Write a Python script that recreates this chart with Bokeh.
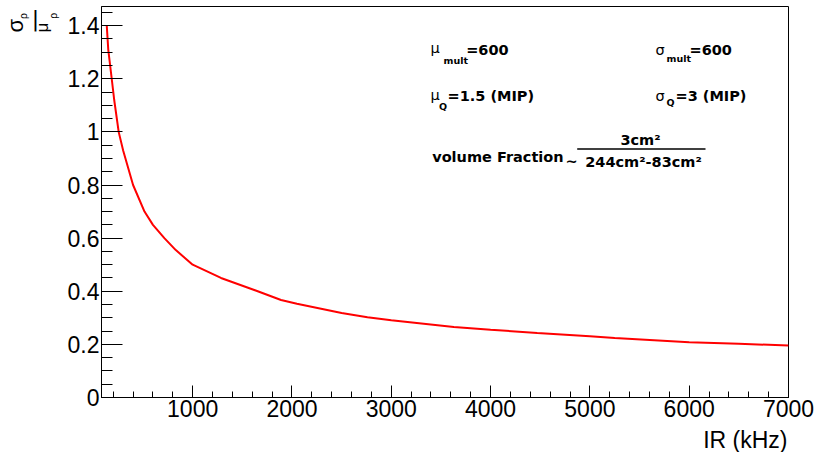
import math
from bokeh.plotting import figure
from bokeh.models import (Label, BoxAnnotation, SingleIntervalTicker,
                          NumeralTickFormatter, Range1d)
from bokeh.embed import file_html
from bokeh.resources import INLINE

# ---- data ----
ir_khz = [135, 150, 185, 210, 255, 300, 400, 515, 600, 715, 830, 1000,
          1285, 1655, 1890, 2050, 2500, 2760, 3000, 3630, 4000, 4470, 5000,
          5250, 6000, 6500, 7000]
sigma_over_mu = [1.40, 1.31, 1.20, 1.12, 1.00, 0.93, 0.80, 0.70, 0.65, 0.60,
                 0.555, 0.50, 0.45, 0.40, 0.367, 0.353, 0.318, 0.302, 0.291,
                 0.265, 0.255, 0.243, 0.231, 0.224, 0.208, 0.202, 0.196]
x_title = "IR (kHz)"
X0, X1 = 82, 7000
Y0, Y1 = 0, 1.472

W, H = 815, 452
FL, FR, FT, FB = 101, 788, 6, 397   # frame edges in page pixels

p = figure(width=W, height=H, output_backend="svg", toolbar_location=None,
           x_range=Range1d(X0, X1), y_range=Range1d(Y0, Y1),
           min_border_left=FL, min_border_right=W - FR, min_border_top=FT,
           min_border_bottom=H - FB)
p.background_fill_color = "white"
p.border_fill_color = "white"
p.outline_line_color = "black"
p.outline_line_width = 1
p.xgrid.visible = False
p.ygrid.visible = False

p.line(ir_khz, sigma_over_mu, line_color="#ff0000", line_width=2)

tick_font = "Liberation Sans"
p.xaxis.ticker = SingleIntervalTicker(interval=1000, num_minor_ticks=5)
p.yaxis.ticker = SingleIntervalTicker(interval=0.2, num_minor_ticks=4)
p.yaxis.formatter = NumeralTickFormatter(format="0.[0]")
for ax in (p.xaxis[0], p.yaxis[0]):
    ax.axis_line_color = "black"
    ax.major_tick_line_color = "black"
    ax.minor_tick_line_color = "black"
    ax.major_tick_out = 0
    ax.minor_tick_out = 0
    ax.major_label_text_font = tick_font
    ax.major_label_text_font_size = "23px"
    ax.major_label_text_color = "black"
    ax.major_label_standoff = 2
p.xaxis.major_tick_in = 12
p.xaxis.minor_tick_in = 6
p.yaxis.major_tick_in = 21
p.yaxis.minor_tick_in = 11

# empirical offset between the anchor and the drawn baseline (fraction of size)
BASE_SHIFT = {"DejaVu Sans": 0.38, "Liberation Sans": 0.30}


def style(size, bold, font):
    return dict(text_font=font, text_font_size=f"{size}px",
                text_font_style="bold" if bold else "normal",
                text_color="black")


def lab(text, xp, yp, size, bold=False, font="DejaVu Sans", align="left"):
    # text inside the frame; yp is the wanted baseline (page pixels)
    yp = yp - BASE_SHIFT[font] * size
    p.add_layout(Label(x=xp - FL, y=FB - yp, x_units="screen",
                       y_units="screen", text=text, text_align=align,
                       text_baseline="alphabetic", **style(size, bold, font)))


def side_lab(side, text, xp, yp, size, bold=False, font="Liberation Sans",
             align="left", rotated=False):
    # text outside the frame: placed in a side panel, positioned via scales
    shift = BASE_SHIFT[font] * size
    if rotated:
        xp = xp - shift
    else:
        yp = yp - shift
    xd = X0 + (xp - FL) * (X1 - X0) / (FR - FL)
    yd = Y0 + (FB - yp) * (Y1 - Y0) / (FB - FT)
    p.add_layout(Label(x=xd, y=yd, text=text, text_align=align,
                       text_baseline="alphabetic",
                       angle=math.pi / 2 if rotated else 0.0,
                       **style(size, bold, font)), side)


def rule(x0, x1, y0, y1):
    p.add_layout(BoxAnnotation(left=x0 - FL, right=x1 - FL,
                               bottom=FB - y1, top=FB - y0,
                               left_units="screen", right_units="screen",
                               top_units="screen", bottom_units="screen",
                               fill_color="black", fill_alpha=1.0,
                               line_color=None))


# annotations inside the frame
lab("\u03bc", 430, 53.5, 14.5)
lab("mult", 443, 64, 9.5, bold=True)
lab("=600", 465.7, 55.3, 14.5, bold=True)
lab("\u03c3", 655, 55.3, 14.5)
lab("mult", 666, 62, 9.5, bold=True)
lab("=600", 689, 55.3, 14.5, bold=True)

lab("\u03bc", 430, 99.7, 14.5)
lab("Q", 438.5, 110, 9.5, bold=True)
lab("=1.5 (MIP)", 447, 101.5, 14.5, bold=True)
lab("\u03c3", 655, 101.5, 14.5)
lab("Q", 666, 106, 9.5, bold=True)
lab("=3 (MIP)", 675, 101.5, 14.5, bold=True)

lab("volume Fraction", 431.7, 161.7, 14.5, bold=True)
lab("~", 565, 166.0, 14.5, bold=True)
lab("3cm\u00b2", 640, 145, 14.5, bold=True, align="center")
rule(576.7, 705, 147.8, 149.2)
lab("244cm\u00b2-83cm\u00b2", 643, 166.7, 14.5, bold=True, align="center")

# y title: sigma_rho over mu_rho, rotated
side_lab("left", "\u03c3", 21.5, 32, 22, rotated=True)
side_lab("left", "|", 35, 26.8, 22, font="DejaVu Sans", align="center")
side_lab("left", "\u03bc", 47, 32, 17, rotated=True)
side_lab("right", "\u03c1", 25.5, 18.5, 10.5, rotated=True)
side_lab("right", "\u03c1", 55.7, 18.3, 10.5, rotated=True)

# x title
side_lab("below", x_title, 787, 446.7, 23, align="right")

open("out.html", "w").write(file_html(p, INLINE))
